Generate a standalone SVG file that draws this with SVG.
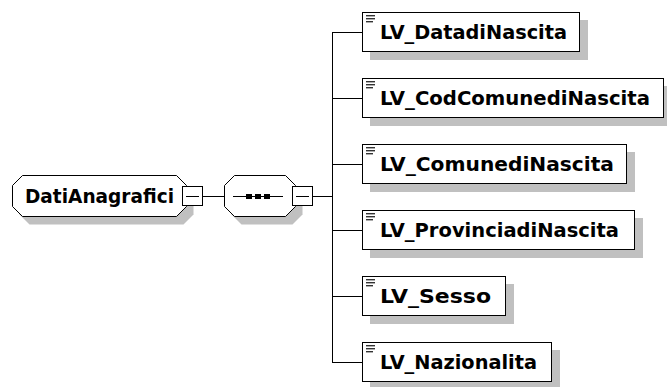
<svg xmlns="http://www.w3.org/2000/svg" width="667" height="387" viewBox="0 0 667 387">
<style>
.sh{fill:#c0c0c0;stroke:none}
.bx{fill:#fff;stroke:#000;stroke-width:1}
.ln{fill:none;stroke:#000;stroke-width:1}
.tx{font-family:"DejaVu Sans",Verdana,sans-serif;font-weight:bold;font-size:19px;fill:#000}
.ic{fill:#333}
</style>
<defs>
<g id="icon"><rect class="ic" x="366" y="3" width="9" height="1.4"/><rect class="ic" x="366" y="6" width="9" height="1.4"/><rect class="ic" x="366" y="9" width="7" height="1.4"/></g>
</defs>
<rect width="667" height="387" fill="#fff"/>
<g id="connectors">
<line class="ln" x1="202.5" y1="196.5" x2="224.5" y2="196.5"/>
<line class="ln" x1="312.5" y1="196.5" x2="332.5" y2="196.5"/>
<line class="ln" x1="332.5" y1="32.5" x2="332.5" y2="362.5"/>
<line class="ln" x1="332" y1="32.5" x2="362.5" y2="32.5"/>
<line class="ln" x1="332" y1="98.5" x2="362.5" y2="98.5"/>
<line class="ln" x1="332" y1="164.5" x2="362.5" y2="164.5"/>
<line class="ln" x1="332" y1="230.5" x2="362.5" y2="230.5"/>
<line class="ln" x1="332" y1="296.5" x2="362.5" y2="296.5"/>
<line class="ln" x1="332" y1="362.5" x2="362.5" y2="362.5"/>
</g>
<g id="DatiAnagrafici">
<polygon class="sh" points="29.5,183.5 183.5,183.5 193.5,193.5 193.5,214.5 183.5,224.5 29.5,224.5 19.5,214.5 19.5,193.5"/>
<polygon class="bx" points="22.5,175.5 176.5,175.5 186.5,185.5 186.5,206.5 176.5,216.5 22.5,216.5 12.5,206.5 12.5,185.5"/>
<text class="tx" x="25" y="202.5" textLength="149" lengthAdjust="spacingAndGlyphs">DatiAnagrafici</text>
<rect class="bx" x="182.5" y="186.5" width="20" height="19"/>
<line class="ln" x1="186" y1="196.5" x2="199" y2="196.5"/>
</g>
<g id="sequence">
<polygon class="sh" points="241.5,183.5 292.5,183.5 302.5,193.5 302.5,214.5 292.5,224.5 241.5,224.5 231.5,214.5 231.5,193.5"/>
<polygon class="bx" points="234.5,175.5 285.5,175.5 295.5,185.5 295.5,206.5 285.5,216.5 234.5,216.5 224.5,206.5 224.5,185.5"/>
<line class="ln" x1="233" y1="196.5" x2="283" y2="196.5"/>
<rect x="246" y="194" width="6" height="5" fill="#000"/>
<rect x="255" y="194" width="6" height="5" fill="#000"/>
<rect x="264" y="194" width="6" height="5" fill="#000"/>
<rect class="bx" x="292.5" y="186.5" width="20" height="19"/>
<line class="ln" x1="296" y1="196.5" x2="309" y2="196.5"/>
</g>
<g id="LV_DatadiNascita">
<rect class="sh" x="370" y="20" width="218" height="40"/>
<rect class="bx" x="362.5" y="12.5" width="217" height="39"/>
<use href="#icon" y="12"/>
<text class="tx" x="380" y="38.5" textLength="187" lengthAdjust="spacingAndGlyphs">LV_DatadiNascita</text>
</g>
<g id="LV_CodComunediNascita">
<rect class="sh" x="370" y="86" width="302" height="40"/>
<rect class="bx" x="362.5" y="78.5" width="301" height="39"/>
<use href="#icon" y="78"/>
<text class="tx" x="380" y="104.5" textLength="270" lengthAdjust="spacingAndGlyphs">LV_CodComunediNascita</text>
</g>
<g id="LV_ComunediNascita">
<rect class="sh" x="370" y="152" width="265" height="40"/>
<rect class="bx" x="362.5" y="144.5" width="264" height="39"/>
<use href="#icon" y="144"/>
<text class="tx" x="380" y="170.5" textLength="234" lengthAdjust="spacingAndGlyphs">LV_ComunediNascita</text>
</g>
<g id="LV_ProvinciadiNascita">
<rect class="sh" x="370" y="218" width="273" height="40"/>
<rect class="bx" x="362.5" y="210.5" width="272" height="39"/>
<use href="#icon" y="210"/>
<text class="tx" x="380" y="236.5" textLength="239" lengthAdjust="spacingAndGlyphs">LV_ProvinciadiNascita</text>
</g>
<g id="LV_Sesso">
<rect class="sh" x="370" y="284" width="144" height="40"/>
<rect class="bx" x="362.5" y="276.5" width="143" height="39"/>
<use href="#icon" y="276"/>
<text class="tx" x="380" y="302.5" textLength="111" lengthAdjust="spacingAndGlyphs">LV_Sesso</text>
</g>
<g id="LV_Nazionalita">
<rect class="sh" x="370" y="350" width="190" height="40"/>
<rect class="bx" x="362.5" y="342.5" width="189" height="39"/>
<use href="#icon" y="342"/>
<text class="tx" x="380" y="368.5" textLength="157" lengthAdjust="spacingAndGlyphs">LV_Nazionalita</text>
</g>
</svg>
